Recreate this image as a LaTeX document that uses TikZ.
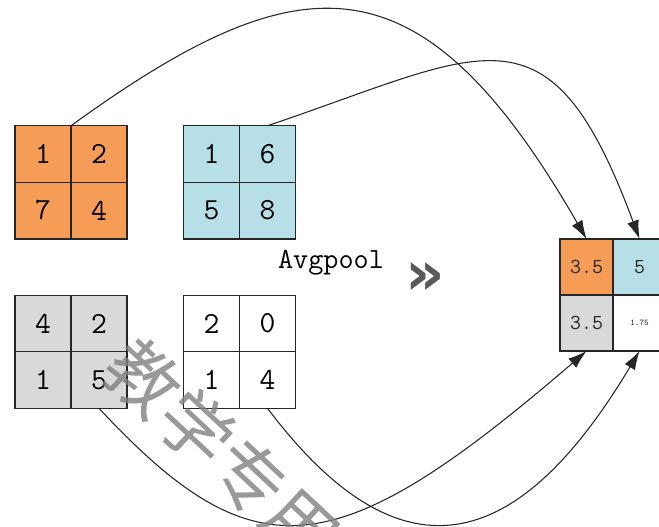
\documentclass[tikz,border=0pt]{standalone}
\usepackage{fontspec}
\newfontfamily\cjk{Noto Sans CJK SC}
\newfontfamily\dvs{DejaVu Sans}
\usetikzlibrary{arrows.meta}
\definecolor{orangecell}{HTML}{F59D56}
\definecolor{bluecell}{HTML}{B7DFE8}
\definecolor{graycell}{HTML}{D9D9D9}
\tikzset{
  cell/.style={draw=black!85, line width=1.1pt, minimum width=42pt, minimum height=42.4pt,
    inner sep=0pt, outer sep=0pt, font=\fontsize{23}{27}\selectfont\ttfamily},
  ocell/.style={draw=black!85, line width=1.1pt, minimum width=39.75pt, minimum height=42pt,
    inner sep=0pt, outer sep=0pt, font=\fontsize{16}{19}\selectfont\ttfamily, text=black!85},
  link/.style={draw=black!85, line width=0.8pt, -{Latex[length=14pt,width=9pt]}},
  wmark/.style={font=\cjk\fontsize{54}{54}\selectfont, text=black!50, opacity=0.8, inner sep=0pt}
}
\begin{document}
\begin{tikzpicture}[x=0.75pt, y=-0.75pt]
\useasboundingbox (0,0) rectangle (659,526);
% orange
\node[cell, fill=orangecell] (o11) at (43,154) {1};
\node[cell, fill=orangecell] (o12) at (99,154) {2};
\node[cell, fill=orangecell] (o21) at (43,210.5) {7};
\node[cell, fill=orangecell] (o22) at (99,210.5) {4};
% blue
\node[cell, fill=bluecell] (b11) at (211.5,154) {1};
\node[cell, fill=bluecell] (b12) at (267.5,154) {6};
\node[cell, fill=bluecell] (b21) at (211.5,210.5) {5};
\node[cell, fill=bluecell] (b22) at (267.5,210.5) {8};
% gray
\node[cell, fill=graycell] (g11) at (43,323.5) {4};
\node[cell, fill=graycell] (g12) at (99,323.5) {2};
\node[cell, fill=graycell] (g21) at (43,380) {1};
\node[cell, fill=graycell] (g22) at (99,380) {5};
% white
\node[cell, fill=white] (w11) at (211.5,323.5) {2};
\node[cell, fill=white] (w12) at (267.5,323.5) {0};
\node[cell, fill=white] (w21) at (211.5,380) {1};
\node[cell, fill=white] (w22) at (267.5,380) {4};
% output
\node[ocell, fill=orangecell] (p11) at (586.5,267) {3.5};
\node[ocell, fill=bluecell] (p12) at (639.5,267) {5};
\node[ocell, fill=graycell] (p21) at (586.5,323) {3.5};
\node[ocell, fill=white] (p22) at (639.5,323) {\fontsize{6.5}{8}\selectfont 1.75};
% labels
\node[font=\fontsize{22}{26}\selectfont\ttfamily, anchor=base, inner sep=0pt] (lbl) at (331,268) {Avgpool};
\node[font=\dvs\bfseries\fontsize{46}{50}\selectfont, text=black!65, inner sep=0pt] (chev) at (425,279) {»};
% connectors
\draw[link] (o11.north east) .. controls (300,-40) and (420,-50) .. (p11.north);
\draw[link] (b12.north) .. controls (486,52) and (549,-5) .. (p12.north);
\draw[link] (g22.south) .. controls (255,576) and (336,566.5) .. (p21.south);
\draw[link] (w22.south) .. controls (400,584) and (517,556) .. (p22.south);
% watermark
\begin{scope}
\clip (0,0) rectangle (659,526);
\node[wmark, rotate=-43] (wm) at (223,452) {教学专用};
\end{scope}
\end{tikzpicture}
\end{document}
